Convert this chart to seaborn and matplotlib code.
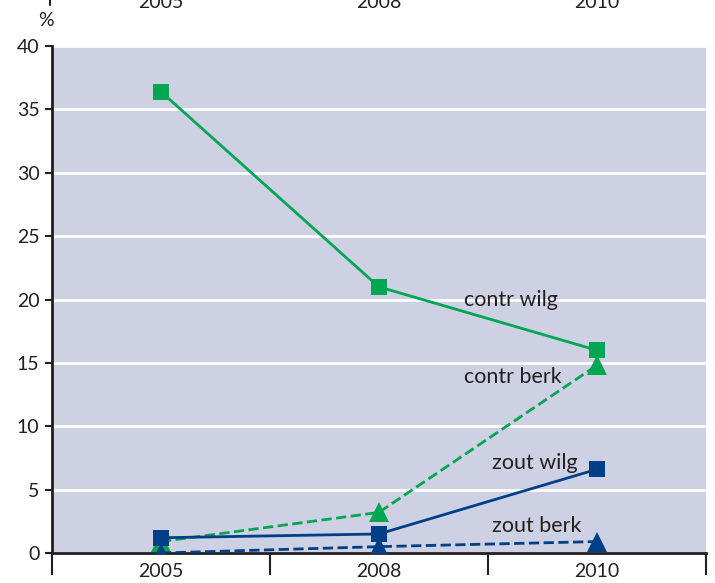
import matplotlib
matplotlib.use("Agg")
import matplotlib.pyplot as plt
import seaborn as sns

# data
years = ["2005", "2008", "2010"]
contr_wilg = [36.4, 21.0, 16.0]
contr_berk = [0.9, 3.2, 14.8]
zout_wilg = [1.2, 1.5, 6.6]
zout_berk = [0.0, 0.5, 0.9]
series_names = ["contr wilg", "contr berk", "zout wilg", "zout berk"]
label_pos = [(1.39, 20.0), (1.39, 13.9), (1.52, 7.1), (1.52, 2.1)]

green = "#00A651"
blue = "#003F87"
bg = "#CDD1E3"
ink = "#231F20"

sns.set_style("white")
plt.rcParams["font.family"] = ["Lato", "DejaVu Sans"]

fig = plt.figure(figsize=(7.15, 5.83), dpi=100)
ax = fig.add_axes([0.0727, 0.0515, 0.9143, 0.8695])
ax.set_facecolor(bg)

styles = [
    (contr_wilg, green, "s", "-", 11),
    (contr_berk, green, "^", "--", 15),
    (zout_wilg, blue, "s", "-", 11),
    (zout_berk, blue, "^", "--", 15),
]
for vals, col, mk, ls, ms in styles:
    sns.lineplot(x=years, y=vals, ax=ax, color=col, marker=mk, linestyle=ls,
                 markersize=ms, markeredgewidth=0, linewidth=2, zorder=3)

for name, (tx, ty) in zip(series_names, label_pos):
    ax.text(tx, ty, name, fontsize=15.5, color=ink, va="center", ha="left", zorder=4)

ax.set_xlim(-0.5, 2.5)
ax.set_ylim(0, 40)
ax.set_yticks(range(0, 41, 5))
ax.tick_params(axis="y", labelsize=14, length=5, width=1.5, direction="out",
               left=True, pad=4, colors=ink)
ax.yaxis.grid(True, color="white", linewidth=2)
ax.set_axisbelow(True)

# bottom: long ticks at category boundaries, labels at centres
ax.set_xticks([-0.5, 0.5, 1.5, 2.5])
ax.set_xticklabels([])
ax.set_xticks([0, 1, 2], minor=True)
ax.set_xticklabels(years, minor=True)
ax.tick_params(axis="x", which="major", length=16, width=1.5, direction="out",
               bottom=True, color=ink)
ax.tick_params(axis="x", which="minor", length=0, labelsize=14, pad=7,
               colors=ink)
ax.set_xlabel("")
ax.set_ylabel("")

for s in ["top", "right"]:
    ax.spines[s].set_visible(False)
for s in ["left", "bottom"]:
    ax.spines[s].set_color(ink)
    ax.spines[s].set_linewidth(2)

# "%" unit label and the top axis labels, cropped by the figure edge as in the reference
fig.text(46 / 715, 1 - 21 / 583, "%", fontsize=14, ha="center", va="center",
         color=ink)
for i, yr in enumerate(years):
    xpix = 52 + 654 * (i + 0.5) / 3
    fig.text(xpix / 715, 1 - 8 / 583, yr, fontsize=14, ha="center",
             va="baseline", color=ink)
fig.add_artist(plt.Line2D([50 / 715, 50 / 715], [1, 1 - 5 / 583],
                          color=ink, linewidth=1.5))

fig.savefig("out.png", dpi=100)
